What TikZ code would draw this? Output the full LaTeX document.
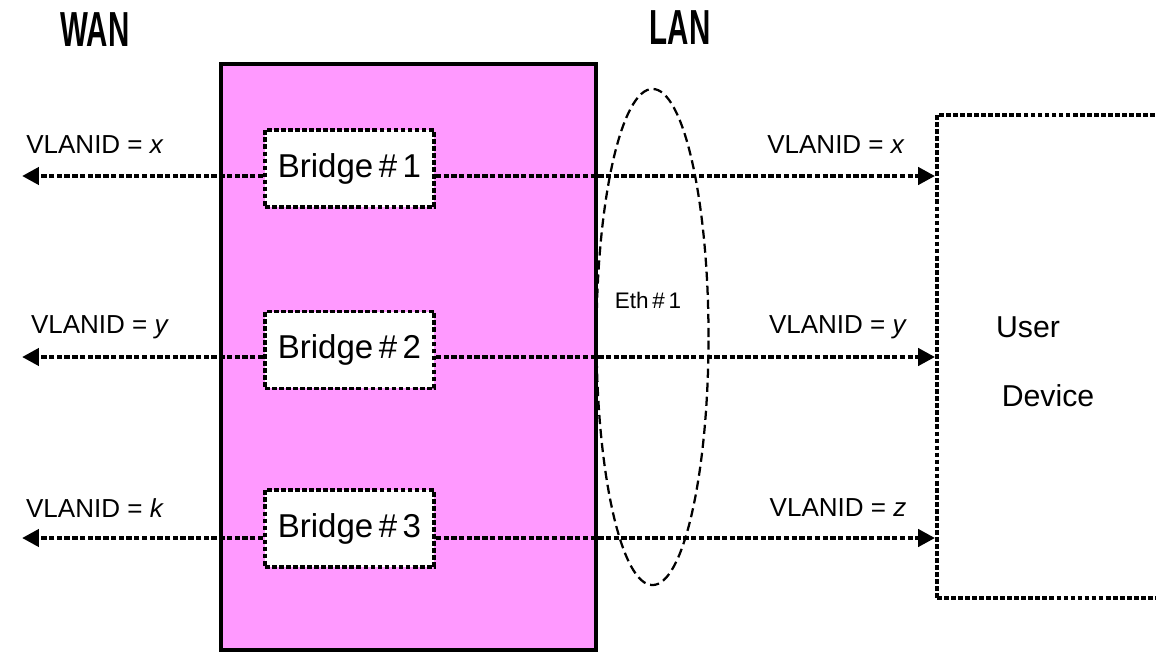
\documentclass[tikz,border=0pt]{standalone}
\usepackage{fontspec}
\setmainfont{Liberation Sans}
\newfontfamily\titlefont[FakeStretch=0.6]{Liberation Sans Bold}
\usetikzlibrary{shapes, calc, arrows.meta}
\definecolor{boxpink}{RGB}{255,153,255}

\begin{document}
\begin{tikzpicture}[x=0.025cm, y=-0.025cm]
		\tikzstyle{bucket}=[rectangle, draw, inner sep=0pt]
		\tikzstyle{bridge}=[bucket, fill=white, line width=2.7pt, dash pattern=on 3.4pt off 1.6pt, minimum width=4.22cm, minimum height=1.92cm, font=\fontsize{23.5}{27}\selectfont]
		\tikzstyle{link}=[line width=3pt, dash pattern=on 3.8pt off 1.7pt, >={Triangle[length=12pt, width=12pt]}]
		\tikzstyle{vlan}=[font=\fontsize{18.5}{22}\selectfont]
		\tikzstyle{title}=[font=\titlefont\fontsize{35}{40}\selectfont]
		\tikzstyle{devtext}=[font=\fontsize{21.5}{25}\selectfont]

		\useasboundingbox (0,0) rectangle (1156,657);

		\node[title] (wan) at (95,30) {WAN};
		\node[title] (lan) at (680,28) {LAN};

		\node[bucket, fill=boxpink, line width=3pt, minimum width=9.375cm, minimum height=14.65cm]
		(gateway) at (408.5,357) {};

		\node[bucket, line width=2.7pt, dash pattern=on 3.4pt off 1.6pt, minimum width=5.65cm,
		minimum height=12.07cm] (device) at (1050,356.5) {};
		\node[devtext] (user) at (1028,327) {User};
		\node[devtext] (devname) at (1048,396) {Device};

		\coordinate (wanx) at (22,176);
		\coordinate (wany) at (22,357);
		\coordinate (wank) at (22,538);

		\node[bridge] (bridge1) at (349.5,168.5) {Bridge\,\#\,1};
		\node[bridge] (bridge2) at (349.5,350) {Bridge\,\#\,2};
		\node[bridge] (bridge3) at (349.5,528.5) {Bridge\,\#\,3};

		\draw[link, ->] (bridge1.west |- wanx) -- (wanx);
		\draw[link, ->] (bridge2.west |- wany) -- (wany);
		\draw[link, ->] (bridge3.west |- wank) -- (wank);
		\draw[link, ->] (bridge1.east |- wanx) -- (wanx -| device.west);
		\draw[link, ->] (bridge2.east |- wany) -- (wany -| device.west);
		\draw[link, ->] (bridge3.east |- wank) -- (wank -| device.west);

		\node[ellipse, draw, dash pattern=on 6.5pt off 3.5pt, line width=1.6pt, inner sep=0pt,
		minimum width=2.8cm, minimum height=12.4cm] (eth) at (652.5,337) {};
		\node[font=\fontsize{16}{18}\selectfont] (ethname) at (648,300) {Eth\,\#\,1};

		\node[vlan] (vlanx) at (95,145) {VLANID = \textit{x}};
		\node[vlan] (vlany) at (100,327) {VLANID = \textit{y}};
		\node[vlan] (vlank) at (95,508) {VLANID = \textit{k}};
		\node[vlan] (lanx) at (836,145) {VLANID = \textit{x}};
		\node[vlan] (lany) at (838,327) {VLANID = \textit{y}};
		\node[vlan] (lanz) at (838,508) {VLANID = \textit{z}};

	\end{tikzpicture}
\end{document}
